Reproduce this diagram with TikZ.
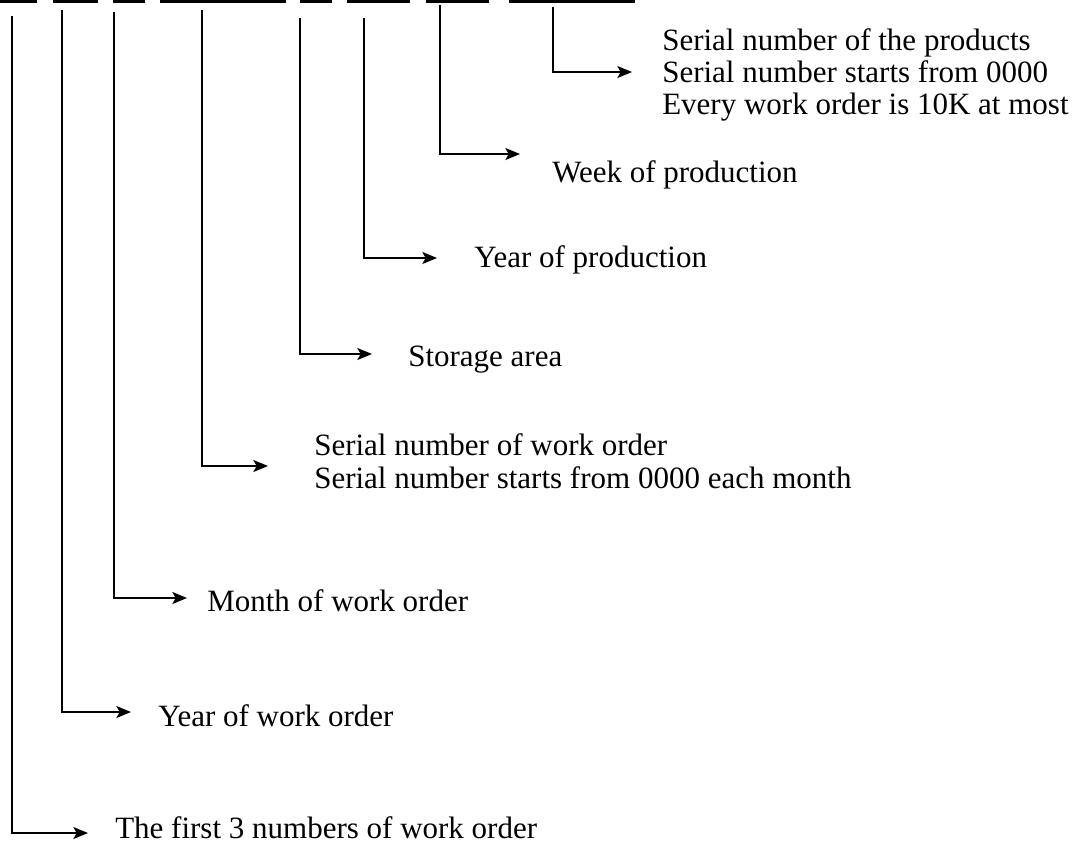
\documentclass[tikz,border=0pt]{standalone}
\usepackage{fontspec}
\setmainfont{Liberation Serif}
\usetikzlibrary{arrows.meta}
\begin{document}
\begin{tikzpicture}[x=0.75pt,y=-0.75pt,
  bar/.style={fill=black,draw=none,inner sep=0pt,outer sep=0pt,anchor=north west,minimum height=2.4pt},
  lead/.style={line width=1.3pt,-{Stealth[length=11pt,width=9pt,inset=2.5pt]}},
  lbl/.style={anchor=base west,inner sep=0pt,font=\fontsize{23.25pt}{25.5pt}\selectfont}]
\useasboundingbox (0,0) rectangle (1074,844);
% digit groups
\node[bar,minimum width=27.75pt] (b1) at (0,0) {};
\node[bar,minimum width=33.75pt] (b2) at (53,0) {};
\node[bar,minimum width=24pt]    (b3) at (113,0) {};
\node[bar,minimum width=94.5pt]  (b4) at (160,0) {};
\node[bar,minimum width=24pt]    (b5) at (300,0) {};
\node[bar,minimum width=47.25pt] (b6) at (347,0) {};
\node[bar,minimum width=47.25pt] (b7) at (426,0) {};
\node[bar,minimum width=94.5pt]  (b8) at (509,0) {};
% leader tops and arrow ends
\coordinate (v1) at (12,16);  \coordinate (e1) at (88,833);
\coordinate (v2) at (62,10);  \coordinate (e2) at (131,712);
\coordinate (v3) at (114,12); \coordinate (e3) at (187,598);
\coordinate (v4) at (202,10); \coordinate (e4) at (268,466);
\coordinate (v5) at (300,18); \coordinate (e5) at (372,354);
\coordinate (v6) at (364,18); \coordinate (e6) at (437,258);
\coordinate (v7) at (440,5);  \coordinate (e7) at (520,154);
\coordinate (v8) at (553,7);  \coordinate (e8) at (632,72);
\foreach \i in {1,...,8} \draw[lead] (v\i) |- (e\i);
% labels
\node[lbl] (t8a) at (662,50)  {Serial number of the products};
\node[lbl] (t8b) at (662,82)  {Serial number starts from 0000};
\node[lbl] (t8c) at (662,114) {Every work order is 10K at most};
\node[lbl] (t7)  at (552,182) {Week of production};
\node[lbl] (t6)  at (474,267) {Year of production};
\node[lbl] (t5)  at (408,366) {Storage area};
\node[lbl] (t4a) at (314,455) {Serial number of work order};
\node[lbl] (t4b) at (314,488) {Serial number starts from 0000 each month};
\node[lbl] (t3)  at (207,611) {Month of work order};
\node[lbl] (t2)  at (158,726) {Year of work order};
\node[lbl] (t1)  at (115,838) {The first 3 numbers of work order};
\end{tikzpicture}
\end{document}
